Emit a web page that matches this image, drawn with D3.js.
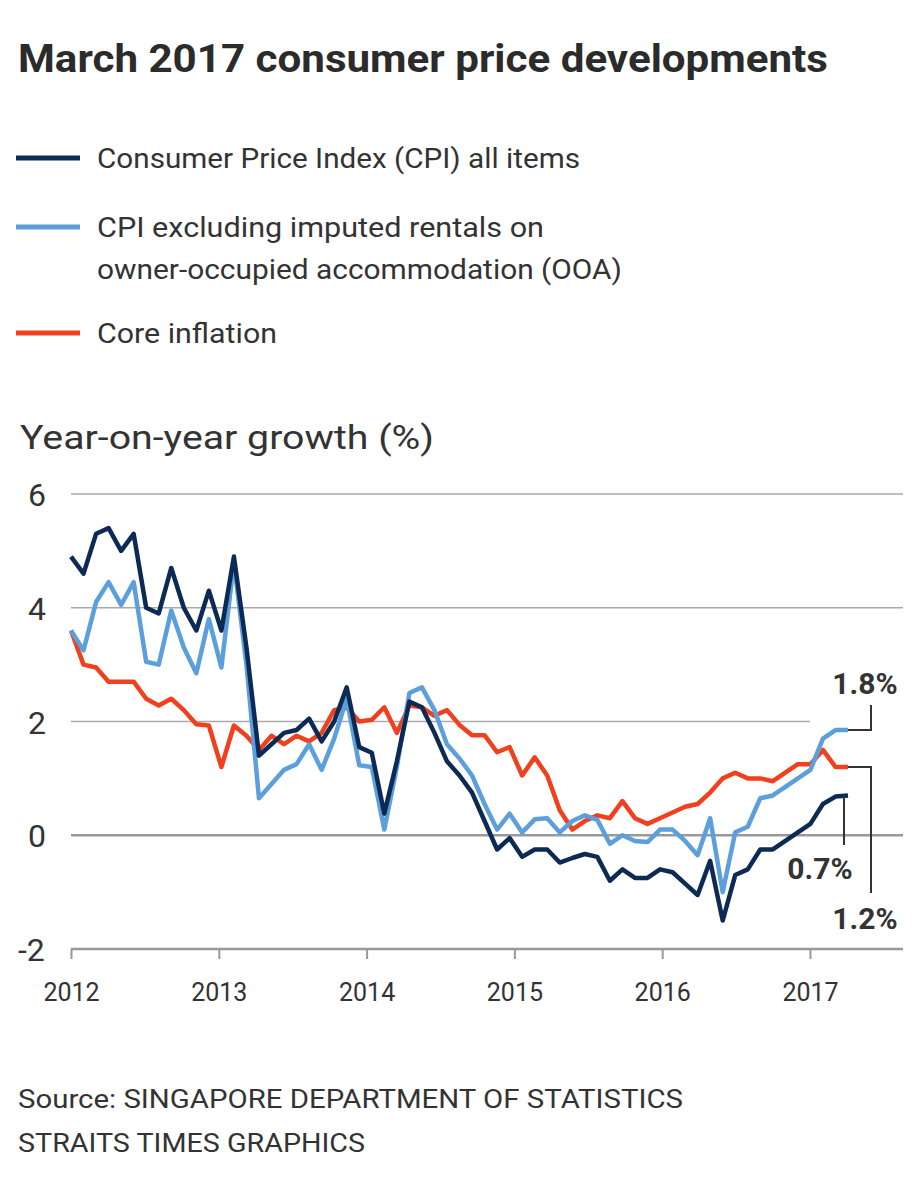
<!DOCTYPE html>
<html><head><meta charset="utf-8">
<script src="https://cdn.jsdelivr.net/npm/d3@7"></script>
<style>body{margin:0;background:#fff;font-family:Roboto,"Noto Sans",sans-serif;}</style>
</head><body><svg id="c" width="920" height="1188"></svg>
<script>
const cpi=[4.9,4.6,5.3,5.4,5.0,5.3,4.0,3.9,4.7,4.0,3.6,4.3,
3.6,4.9,3.3,1.4,1.6,1.8,1.85,2.05,1.65,2.0,2.6,1.55,
1.45,0.38,1.3,2.35,2.25,1.8,1.3,1.05,0.75,0.25,-0.25,-0.05,
-0.38,-0.25,-0.25,-0.48,-0.4,-0.33,-0.38,-0.8,-0.6,-0.75,-0.75,-0.6,
-0.65,-0.85,-1.05,-0.45,-1.5,-0.7,-0.6,-0.25,-0.25,-0.1,0.05,0.2,
0.55,0.68,0.7];
const cpiExOOA=[3.6,3.25,4.1,4.45,4.05,4.45,3.05,3.0,3.95,3.3,2.85,3.8,
2.95,4.8,3.0,0.65,0.9,1.15,1.25,1.6,1.15,1.7,2.4,1.23,
1.2,0.1,1.2,2.5,2.6,2.2,1.6,1.35,1.05,0.55,0.1,0.38,
0.05,0.28,0.3,0.05,0.25,0.35,0.27,-0.15,0.0,-0.1,-0.12,0.1,
0.1,-0.1,-0.35,0.3,-1.0,0.05,0.15,0.65,0.7,0.85,1.0,1.15,
1.7,1.85,1.85];
const core=[3.6,3.0,2.95,2.7,2.7,2.7,2.4,2.28,2.4,2.2,1.95,1.93,
1.2,1.93,1.75,1.5,1.75,1.6,1.75,1.65,1.8,2.2,2.25,2.0,
2.03,2.25,1.8,2.28,2.25,2.1,2.2,1.94,1.76,1.76,1.46,1.55,
1.05,1.37,1.05,0.44,0.1,0.25,0.35,0.3,0.6,0.3,0.2,0.3,
0.4,0.5,0.55,0.75,1.0,1.1,1.0,1.0,0.95,1.1,1.25,1.25,
1.5,1.2,1.2];
const yTicks=[-2,0,2,4,6];
const yearTicks=[2012,2013,2014,2015,2016,2017];
const series=[{name:"Consumer Price Index (CPI) all items",color:"#0d2a55",values:cpi,w:[483]},
{name:"CPI excluding imputed rentals on|owner-occupied accommodation (OOA)",color:"#5b9fdc",values:cpiExOOA,w:[447,525]},
{name:"Core inflation",color:"#f0401e",values:core,w:[180]}];

const svg=d3.select("#c");
const xi=d3.scaleLinear().domain([0,cpi.length-1]).range([71,848]);
const xt=d3.scaleLinear().domain([2012,2017]).range([71,810]);
const y=d3.scaleLinear().domain([-2,6]).range([949,494]);
const T=(xx,yy,size,txt,len,w)=>{const t=svg.append("text").attr("x",xx).attr("y",yy).attr("font-size",size).attr("fill","#333").text(txt);
 if(w)t.attr("font-weight",w); if(len)t.attr("textLength",len).attr("lengthAdjust","spacingAndGlyphs"); return t;};

T(18,72,38,"March 2017 consumer price developments",810,700).attr("fill","#2b2b2b");

const ly=[158,227,333];
series.forEach((s,k)=>{
 svg.append("line").attr("x1",16).attr("x2",80).attr("y1",ly[k]).attr("y2",ly[k]).attr("stroke",s.color).attr("stroke-width",5);
 s.name.split("|").forEach((t,j)=>T(97,ly[k]+10+j*42,28,t,s.w[j]));
});
T(20,449,33,"Year-on-year growth (%)",414);

yTicks.forEach(v=>{
 svg.append("line").attr("x1",71).attr("x2",v===2?810:903).attr("y1",y(v)).attr("y2",y(v))
  .attr("stroke",v===0||v===-2?"#999":"#aaa").attr("stroke-width",v===0||v===-2?2.5:1.5);
 T(v<0?18:28,y(v)+12,32,v);
});
const ax=svg.append("g").attr("transform","translate(0,949)")
 .call(d3.axisBottom(xt).tickValues(yearTicks).tickFormat(d3.format("d")).tickSize(10));
ax.select(".domain").remove();
ax.selectAll("line").attr("stroke","#999").attr("stroke-width",2);
ax.selectAll("text").attr("font-size",25).attr("fill","#333").attr("dy","1.55em").attr("font-family","Roboto,sans-serif");

const line=d3.line().x((d,i)=>xi(i)).y(d=>y(d));
series.slice().reverse().forEach(s=>svg.append("path").attr("d",line(s.values)).attr("fill","none")
 .attr("stroke",s.color).attr("stroke-width",4.5).attr("stroke-linejoin","round"));

const n=cpi.length-1, xe=xi(n);
const ann=svg.append("g").attr("stroke","#333").attr("stroke-width",2).attr("fill","none");
ann.append("path").attr("d",`M${xe},${y(cpiExOOA[n])}H871V705`);
ann.append("path").attr("d",`M${xe},${y(core[n])}H871V893`);
ann.append("path").attr("d",`M${xe-4},${y(cpi[n])}V845`);
const lab=(t,xx,yy)=>T(xx,yy,30,t,null,700).attr("text-anchor","middle");
lab("1.8%",865,694);lab("1.2%",865,929);lab("0.7%",820,879);

T(18,1108,26,"Source: SINGAPORE DEPARTMENT OF STATISTICS",665);
T(18,1152,26,"STRAITS TIMES GRAPHICS",347);
</script></body></html>
